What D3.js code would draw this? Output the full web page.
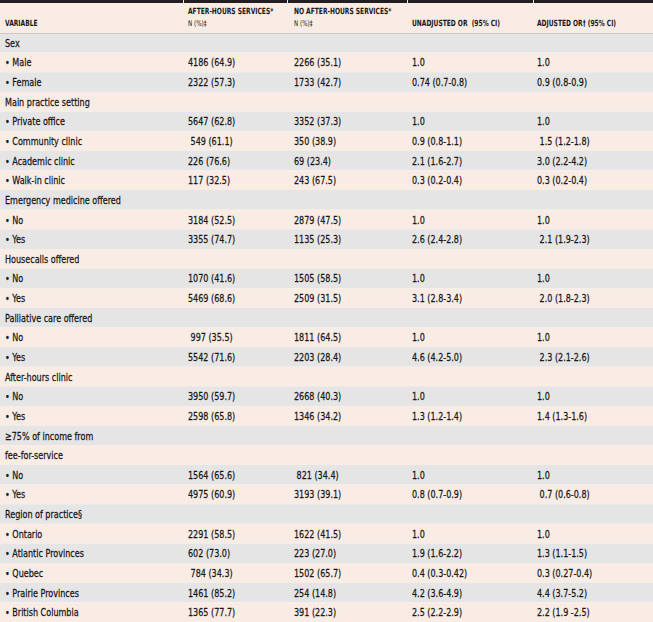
<!DOCTYPE html>
<html>
<head>
<meta charset="utf-8">
<script src="https://cdn.jsdelivr.net/npm/d3@7"></script>
<style>
  body { margin: 0; background: #fff; }
  svg text { font-family: "DejaVu Sans", sans-serif; font-stretch: condensed; fill: #1a1718; white-space: pre; }
</style>
</head>
<body>
<svg width="653" height="622"></svg>
<script>
var svg = d3.select("svg");
const width = +svg.attr("width");
const height = +svg.attr("height");

// table content, one entry per row (group headings have empty cells)
var variables = ["Sex", "• Male", "• Female", "Main practice setting", "• Private office", "• Community clinic",
  "• Academic clinic", "• Walk-in clinic", "Emergency medicine offered", "• No", "• Yes", "Housecalls offered",
  "• No", "• Yes", "Palliative care offered", "• No", "• Yes", "After-hours clinic", "• No", "• Yes",
  "≥75% of income from", "fee-for-service", "• No", "• Yes", "Region of practice§", "• Ontario",
  "• Atlantic Provinces", "• Quebec", "• Prairie Provinces", "• British Columbia"];
var afterHours = ["", "4186 (64.9)", "2322 (57.3)", "", "5647 (62.8)", " 549 (61.1)", "226 (76.6)", "117 (32.5)",
  "", "3184 (52.5)", "3355 (74.7)", "", "1070 (41.6)", "5469 (68.6)", "", " 997 (35.5)", "5542 (71.6)", "",
  "3950 (59.7)", "2598 (65.8)", "", "", "1564 (65.6)", "4975 (60.9)", "", "2291 (58.5)", "602 (73.0)",
  " 784 (34.3)", "1461 (85.2)", "1365 (77.7)"];
var noAfterHours = ["", "2266 (35.1)", "1733 (42.7)", "", "3352 (37.3)", "350 (38.9)", "69 (23.4)", "243 (67.5)",
  "", "2879 (47.5)", "1135 (25.3)", "", "1505 (58.5)", "2509 (31.5)", "", "1811 (64.5)", "2203 (28.4)", "",
  "2668 (40.3)", "1346 (34.2)", "", "", " 821 (34.4)", "3193 (39.1)", "", "1622 (41.5)", "223 (27.0)",
  "1502 (65.7)", "254 (14.8)", "391 (22.3)"];
var unadjustedOR = ["", "1.0", "0.74 (0.7-0.8)", "", "1.0", "0.9 (0.8-1.1)", "2.1 (1.6-2.7)", "0.3 (0.2-0.4)",
  "", "1.0", "2.6 (2.4-2.8)", "", "1.0", "3.1 (2.8-3.4)", "", "1.0", "4.6 (4.2-5.0)", "", "1.0",
  "1.3 (1.2-1.4)", "", "", "1.0", "0.8 (0.7-0.9)", "", "1.0", "1.9 (1.6-2.2)", "0.4 (0.3-0.42)",
  "4.2 (3.6-4.9)", "2.5 (2.2-2.9)"];
var adjustedOR = ["", "1.0", "0.9 (0.8-0.9)", "", "1.0", " 1.5 (1.2-1.8)", "3.0 (2.2-4.2)", "0.3 (0.2-0.4)",
  "", "1.0", " 2.1 (1.9-2.3)", "", "1.0", " 2.0 (1.8-2.3)", "", "1.0", " 2.3 (2.1-2.6)", "", "1.0",
  "1.4 (1.3-1.6)", "", "", "1.0", " 0.7 (0.6-0.8)", "", "1.0", "1.3 (1.1-1.5)", "0.3 (0.27-0.4)",
  "4.4 (3.7-5.2)", "2.2 (1.9 -2.5)"];
var headers = [["VARIABLE"], ["AFTER-HOURS SERVICES*", "N (%)‡"], ["NO AFTER-HOURS SERVICES*", "N (%)‡"],
  ["UNADJUSTED OR  (95% CI)"], ["ADJUSTED OR† (95% CI)"]];

var columns = [variables, afterHours, noAfterHours, unadjustedOR, adjustedOR];
var colEdges = [0, 183, 287, 407, 533, width];
var textPad = [5, 5, 7, 5, 4];
var headerH = 33;
var squeeze = 0.8; // narrow the face toward the condensed original

var y = d3.scaleBand().domain(d3.range(variables.length)).range([headerH, height]);

// header background
svg.append("rect").attr("x", 0).attr("y", 0).attr("width", width).attr("height", headerH).attr("fill", "#f8ece5");

// thick top rule, broken at column edges
svg.selectAll("rect.rule").data(d3.range(5)).enter().append("rect")
  .attr("class", "rule")
  .attr("x", i => colEdges[i] + (i ? 1 : 0))
  .attr("y", 0)
  .attr("width", i => colEdges[i + 1] - colEdges[i] - (i ? 1 : 0))
  .attr("height", 3)
  .attr("fill", "#231f20");

// row bands
svg.selectAll("rect.row").data(variables).enter().append("rect")
  .attr("class", "row")
  .attr("x", 0)
  .attr("y", (d, i) => y(i))
  .attr("width", width)
  .attr("height", y.bandwidth())
  .attr("fill", (d, i) => i % 2 ? "#f8ece5" : "#e5e5e5");

svg.append("line").attr("x1", 0).attr("x2", width).attr("y1", headerH + 0.5).attr("y2", headerH + 0.5)
  .attr("stroke", "#cfc8c4").attr("stroke-width", 1);

// header text
var hg = svg.selectAll("g.head").data(headers).enter().append("g").attr("class", "head");
hg.each(function(lines, c) {
  var g = d3.select(this);
  var y0 = lines.length === 2 ? 14 : 26;
  lines.forEach((t, k) => {
    g.append("text")
      .attr("transform", "translate(" + (colEdges[c] + textPad[c]) + "," + (y0 + k * 12) + ") scale(" + (squeeze - 0.02) + ",1)")
      .attr("font-size", k === 0 ? 8.5 : 8)
      .attr("font-weight", k === 0 ? "bold" : "normal")
      .text(t);
  });
});

// body text
columns.forEach((col, c) => {
  svg.append("g").selectAll("text").data(col).enter().append("text")
    .attr("transform", (d, i) => "translate(" + (colEdges[c] + textPad[c]) + "," + (y(i) + y.bandwidth() / 2) + ") scale(" + squeeze + ",1)")
    .attr("dy", "0.36em")
    .attr("font-size", 11.2)
    .attr("font-weight", 500)
    .attr("stroke", "#1a1718")
    .attr("stroke-width", 0.25)
    .text(d => d);
});
</script>
</body>
</html>
